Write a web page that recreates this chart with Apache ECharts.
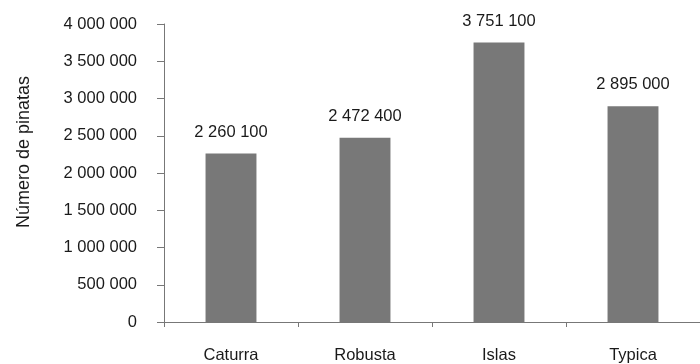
<!DOCTYPE html>
<html><head><meta charset="utf-8">
<script src="https://cdn.jsdelivr.net/npm/echarts@6/dist/echarts.min.js"></script>
<style>html,body{margin:0;padding:0;background:#fff}#c{width:700px;height:364px}</style>
</head><body><div id="c"></div>
<script>
const categories = ["Caturra", "Robusta", "Islas", "Typica"];
const values = [2260100, 2472400, 3751100, 2895000];
const yTicks = [0, 500000, 1000000, 1500000, 2000000, 2500000, 3000000, 3500000, 4000000];
const yName = "Número de pinatas";

function fmt(v) { return String(v).replace(/\B(?=(\d{3})+(?!\d))/g, " "); }

const chart = echarts.init(document.getElementById('c'), null, {renderer: 'canvas'});
chart.setOption({
  animation: false,
  textStyle: {fontFamily: 'Liberation Sans, Arial, sans-serif'},
  grid: {left: 164, top: 24, width: 546, height: 298},
  xAxis: {
    type: 'category', data: categories,
    axisLine: {lineStyle: {color: '#777', width: 1}},
    axisTick: {show: true, length: 5, lineStyle: {color: '#777'}},
    axisLabel: {color: '#1a1a1a', fontSize: 16.5, margin: 25}
  },
  yAxis: {
    type: 'value', min: yTicks[0], max: yTicks[yTicks.length - 1], interval: yTicks[1] - yTicks[0],
    name: yName, nameLocation: 'middle', nameGap: 131,
    nameTextStyle: {color: '#1a1a1a', fontSize: 18, padding: [0, 0, 0, 42]},
    axisLine: {show: true, lineStyle: {color: '#777', width: 1}},
    axisTick: {show: true, length: 7, lineStyle: {color: '#777'}},
    splitLine: {show: false},
    axisLabel: {color: '#1a1a1a', fontSize: 16.5, margin: 27, formatter: fmt}
  },
  series: [{
    type: 'bar', data: values, barWidth: '38%',
    itemStyle: {color: '#787878'},
    label: {show: true, position: 'top', distance: 13, color: '#1a1a1a', fontSize: 16.5, formatter: p => fmt(p.value)}
  }]
});
</script></body></html>
